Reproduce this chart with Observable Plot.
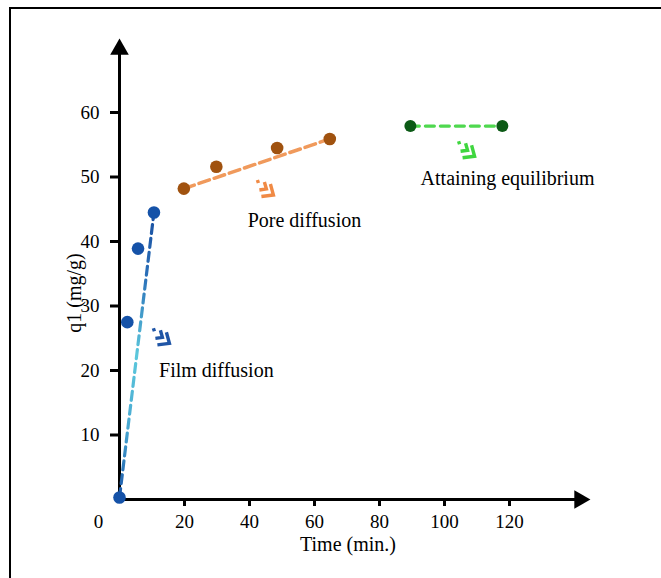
<!DOCTYPE html>
<html>
<head>
<meta charset="utf-8">
<script src="https://cdn.jsdelivr.net/npm/d3@7"></script>
<script src="https://cdn.jsdelivr.net/npm/@observablehq/plot@0.6"></script>
<style>
  html, body { margin: 0; padding: 0; background: #fff; }
  #wrap { position: relative; width: 661px; height: 578px; overflow: hidden; }
  #frame { position: absolute; left: 9px; top: 7px; right: -5px; bottom: -5px;
           border-top: 2.5px solid #000; border-left: 2.5px solid #000; pointer-events: none; }
  svg text { font-family: 'Liberation Serif', 'Times New Roman', serif; }
</style>
</head>
<body>
<div id="wrap"><div id="frame"></div></div>
<script>
// ---- data ----
const filmTime = [0, 2.4, 5.7, 10.6];
const filmQ    = [0.3, 27.5, 38.9, 44.5];
const poreTime = [19.8, 29.8, 48.5, 64.7];
const poreQ    = [48.2, 51.6, 54.5, 55.9];
const equiTime = [89.5, 117.8];
const equiQ    = [57.9, 57.9];

const xTicks = [20, 40, 60, 80, 100, 120];
const yTicks = [10, 20, 30, 40, 50, 60];

const stageLabels = ["Film diffusion", "Pore diffusion", "Attaining equilibrium"];
const labelTime   = [29.8, 56.9, 119.4];
const labelQ      = [20.0, 43.3, 49.8];
const chevronTime = [13.2, 45.2, 107.1];
const chevronQ    = [25.3, 48.3, 54.3];
const chevronColors = ["#1f55a6", "#f08a45", "#3fd63f"];

const xMax = 140, yMax = 60;
const xArrowAt = 141.6, yArrowAt = 69.8;

// ---- build tables ----
const zip = (t, q) => t.map((d, i) => ({t: d, q: q[i]}));
const film = zip(filmTime, filmQ);
const pore = zip(poreTime, poreQ);
const equi = zip(equiTime, equiQ);
const ends = a => [a[0], a[a.length - 1]];
const labels = stageLabels.map((s, i) => ({s, t: labelTime[i], q: labelQ[i]}));
const chevrons = chevronTime.map((t, i) => ({t, q: chevronQ[i], c: chevronColors[i]}));

const serif = "'Liberation Serif', 'Times New Roman', serif";

// double chevron pointing down-right (drawn in pixels, independent of size)
const chevronSymbol = {
  draw(ctx) {
    ctx.moveTo(-9, -8); ctx.lineTo(-8, -5);          // small tick
    ctx.moveTo(-2, -6); ctx.lineTo(0, 1); ctx.lineTo(-7, 2);   // first chevron
    ctx.moveTo(4, -4); ctx.lineTo(7, 7); ctx.lineTo(-5, 8.5);  // second chevron
  }
};

const chart = Plot.plot({
  width: 661,
  height: 578,
  marginLeft: 119,
  marginRight: 87,
  marginTop: 112,
  marginBottom: 79,
  style: {fontFamily: serif, fontSize: "19px", overflow: "visible", background: "transparent"},
  x: {domain: [0, xMax], axis: null},
  y: {domain: [0, yMax], axis: null},
  marks: [
    // axis lines with arrowheads
    Plot.ruleX([0], {y1: 0, y2: yArrowAt, stroke: "#000", strokeWidth: 3, insetBottom: -1.5}),
    Plot.ruleY([0], {x1: 0, x2: xArrowAt, stroke: "#000", strokeWidth: 3, insetLeft: -1.5}),
    Plot.dot([{t: 0, q: yArrowAt}], {x: "t", y: "q", symbol: "triangle", r: 6.9, fill: "#000", stroke: null}),
    Plot.dot([{t: xArrowAt, q: 0}], {x: "t", y: "q", symbol: "triangle", r: 6.9, fill: "#000", stroke: null, rotate: 90}),
    Plot.axisX({ticks: xTicks, tickSize: 7, tickPadding: 8, strokeWidth: 3, fontSize: 19, fontFamily: serif, label: null, fill: "#000"}),
    Plot.axisY({ticks: yTicks, tickSize: 9, tickPadding: 11, strokeWidth: 3, fontSize: 19, fontFamily: serif, label: null, fill: "#000"}),
    Plot.text(["0"], {x: 0, y: 0, dx: -21, dy: 22, fontSize: 19, fontFamily: serif, fill: "#000"}),
    Plot.text(["Time (min.)"], {frameAnchor: "bottom", dy: 51, dx: 1, fontSize: 20, fontFamily: serif, fill: "#000"}),
    Plot.text(["q1 (mg/g)"], {frameAnchor: "left", textAnchor: "middle", dx: -45, dy: -13, rotate: -90,
                              fontSize: 20, fontFamily: serif, fill: "#000"}),

    // fitted dashed segments
    Plot.line(ends(film), {x: "t", y: "q", stroke: "url(#filmGrad)", strokeWidth: 3.2, strokeDasharray: "9,5"}),
    Plot.line(ends(pore), {x: "t", y: "q", stroke: "#f09a5c", strokeWidth: 3.5, strokeDasharray: "11,5"}),
    Plot.line(ends(equi), {x: "t", y: "q", stroke: "#4fd84f", strokeWidth: 3.2, strokeDasharray: "9,6"}),

    // measured points
    Plot.dot(film, {x: "t", y: "q", r: 6.3, fill: "#1552a8", stroke: null}),
    Plot.dot(pore, {x: "t", y: "q", r: 6.3, fill: "#a0520f", stroke: null}),
    Plot.dot(equi, {x: "t", y: "q", r: 6, fill: "#0c5a16", stroke: null}),

    // stage chevrons and labels
    Plot.dot(chevrons, {x: "t", y: "q", symbol: chevronSymbol, r: 8, stroke: "c", fill: "none",
                        strokeWidth: 3.4, strokeLinejoin: "miter", strokeLinecap: "butt"}),
    Plot.text(labels, {x: "t", y: "q", text: "s", fontSize: 20, fontFamily: serif, fill: "#000"})
  ]
});

chart.setAttribute("font-family", serif);

// gradient for the film-diffusion line
const ns = "http://www.w3.org/2000/svg";
const defs = document.createElementNS(ns, "defs");
const grad = document.createElementNS(ns, "linearGradient");
grad.setAttribute("id", "filmGrad");
grad.setAttribute("x1", "0"); grad.setAttribute("y1", "0");
grad.setAttribute("x2", "0"); grad.setAttribute("y2", "1");
[["0%", "#1a4fa0"], ["22%", "#2a6fb8"], ["50%", "#5cc8dc"], ["75%", "#49a9d2"], ["100%", "#1a55a8"]].forEach(([o, c]) => {
  const s = document.createElementNS(ns, "stop");
  s.setAttribute("offset", o); s.setAttribute("stop-color", c);
  grad.appendChild(s);
});
defs.appendChild(grad);
chart.insertBefore(defs, chart.firstChild);

const wrap = document.getElementById("wrap");
chart.style.position = "absolute";
chart.style.left = "0"; chart.style.top = "0";
wrap.insertBefore(chart, wrap.firstChild);
</script>
</body>
</html>
